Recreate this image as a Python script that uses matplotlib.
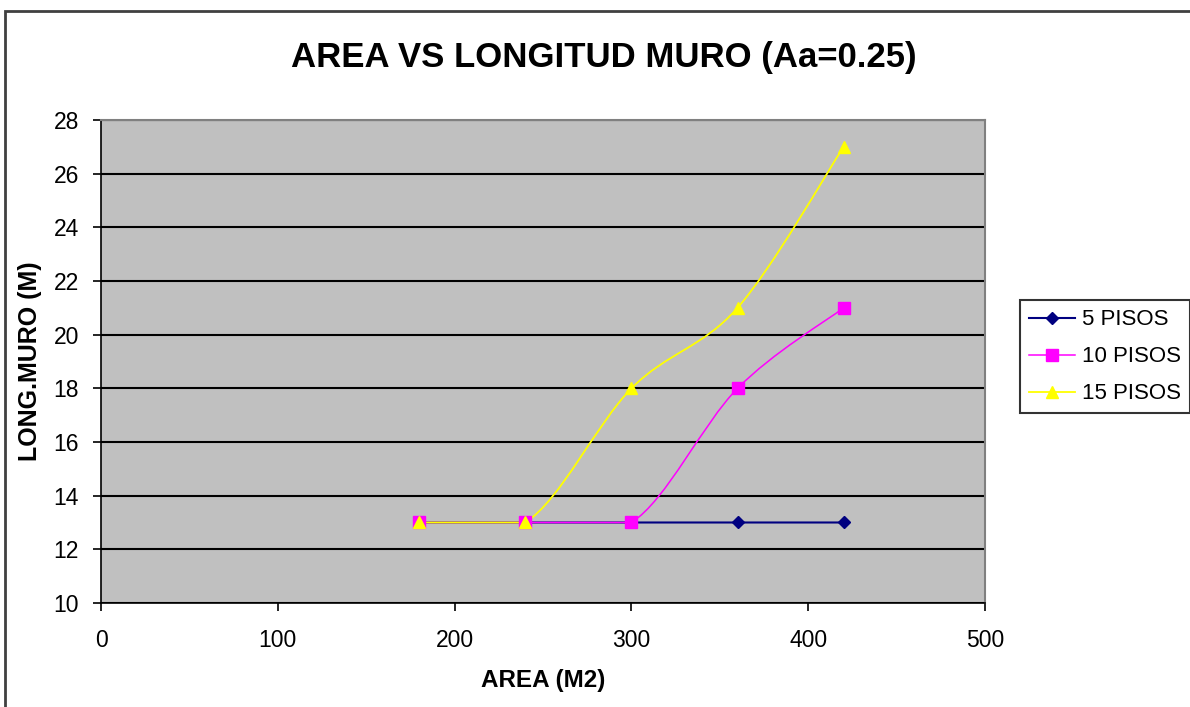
import matplotlib.pyplot as plt
import numpy as np
from matplotlib.path import Path
from matplotlib.patches import PathPatch, Rectangle
from matplotlib.lines import Line2D

plt.rcParams['font.family'] = ['Liberation Sans', 'DejaVu Sans']

area = [180, 240, 300, 360, 420]
pisos5 = [13, 13, 13, 13, 13]
pisos10 = [13, 13, 13, 18, 21]
pisos15 = [13, 13, 18, 21, 27]
labels = ['5 PISOS', '10 PISOS', '15 PISOS']
colors = ['#000080', '#FF00FF', '#FFFF00']
markers = ['D', 's', '^']
msizes = [6, 8, 9]


def smooth_path(xs, ys):
    # excel-ish smoothed line: cardinal bezier, control points kept inside segment range
    xs = np.asarray(xs, float)
    ys = np.asarray(ys, float)
    n = len(xs)
    verts = [(xs[0], ys[0])]
    codes = [Path.MOVETO]
    for i in range(n - 1):
        i0 = max(i - 1, 0)
        i3 = min(i + 2, n - 1)
        c1x = xs[i] + (xs[i + 1] - xs[i0]) / 6
        c1y = ys[i] + (ys[i + 1] - ys[i0]) / 6
        c2x = xs[i + 1] - (xs[i3] - xs[i]) / 6
        c2y = ys[i + 1] - (ys[i3] - ys[i]) / 6
        lo, hi = min(ys[i], ys[i + 1]), max(ys[i], ys[i + 1])
        c1y = min(max(c1y, lo), hi)
        c2y = min(max(c2y, lo), hi)
        verts += [(c1x, c1y), (c2x, c2y), (xs[i + 1], ys[i + 1])]
        codes += [Path.CURVE4] * 3
    return Path(verts, codes)


fig = plt.figure(figsize=(11.9, 7.07), dpi=100)
fig.patches.append(Rectangle((0.004, -0.05), 1.2, 1.034, transform=fig.transFigure,
                             fill=False, edgecolor='#404040', lw=2))

ax = fig.add_axes([0.0849, 0.1471, 0.7429, 0.6832])
ax.set_facecolor('#C0C0C0')

series = [pisos5, pisos10, pisos15]
lws = [1.5, 1.1, 1.3]
handles = []
for vals, lab, c, m, ms, lw in zip(series, labels, colors, markers, msizes, lws):
    ax.add_patch(PathPatch(smooth_path(area, vals), fill=False, edgecolor=c, lw=lw, zorder=3))
    ax.plot(area, vals, ls='none', marker=m, color=c, markersize=ms, zorder=4)
    handles.append(Line2D([], [], color=c, lw=lw, marker=m, markersize=ms))

ax.set_xlim(0, 500)
ax.set_ylim(10, 28)
ax.set_xticks(range(0, 501, 100))
ax.set_yticks(range(10, 29, 2))
ax.yaxis.grid(True, color='black', lw=1.5)
ax.set_axisbelow(True)
for s in ['top', 'right']:
    ax.spines[s].set_color('#808080')
    ax.spines[s].set_linewidth(1.5)
for s in ['left', 'bottom']:
    ax.spines[s].set_color('black')
    ax.spines[s].set_linewidth(1.2)
ax.tick_params(direction='out', length=6, width=1.2, labelsize=16.5)
ax.tick_params(axis='x', pad=13)
ax.tick_params(axis='y', pad=10)

ax.set_xlabel('AREA (M2)', fontsize=17.5, fontweight='bold', labelpad=12)
ax.set_ylabel('LONG.MURO (M)', fontsize=18, fontweight='bold', labelpad=8)
fig.text(0.507, 0.918, 'AREA VS LONGITUD MURO (Aa=0.25)', ha='center', va='center',
         fontsize=25, fontweight='bold')

leg = fig.legend(handles, labels, loc='upper left', bbox_to_anchor=(0.857, 0.575),
                 fontsize=16, frameon=True, fancybox=False, edgecolor='black',
                 handlelength=2.1, handletextpad=0.3, labelspacing=0.72,
                 borderpad=0.4, borderaxespad=0)
leg.get_frame().set_linewidth(1.5)

fig.savefig('out.png', dpi=100)
